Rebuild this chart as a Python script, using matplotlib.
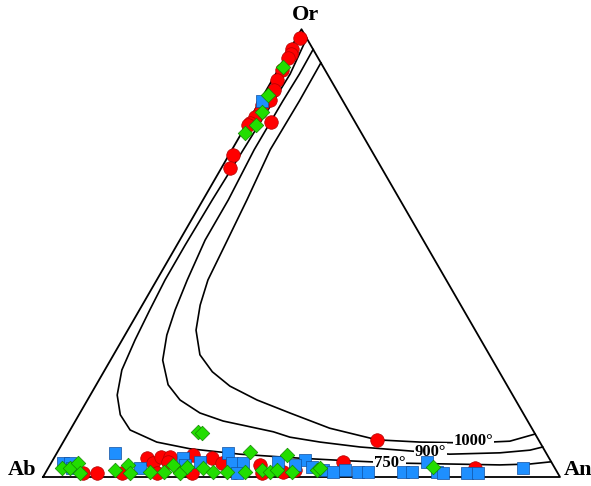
import numpy as np
import matplotlib
matplotlib.use("Agg")
import matplotlib.pyplot as plt

# feldspar compositions, mol% (An, Or); Ab = 100 - An - Or
red_an = [0.7, 0.4, 0.7, 0.6, 0.8, 0.9, 1.5, 1.8, 0.8, 1.2, 0.8, 0.5, 0.3, 4.4, 0.8, 1.7,
          7.3, 10.0, 14.8, 18.0, 19.7, 21.6, 20.6, 22.3, 22.5, 26.6, 30.6, 33.1, 28.4, 25.7,
          36.6, 37.3, 40.6, 41.9, 45.9, 48.0, 56.3, 60.5, 82.5]
red_or = [98.1, 95.6, 94.5, 93.6, 90.9, 88.7, 86.5, 84.2, 83.1, 81.5, 80.4, 79.1, 78.6, 79.3, 71.9, 69.0,
          0.9, 0.9, 0.9, 4.2, 3.1, 0.9, 4.5, 4.5, 3.4, 4.9, 4.2, 3.1, 0.9, 2.7,
          1.1, 1.6, 2.7, 0.9, 1.1, 1.6, 3.4, 8.3, 2.0]

blue_an = [0.3, 2.3, 3.7, 4.6, 11.2, 17.8, 24.9, 33.1, 35.0, 37.1, 37.1, 43.8, 48.8, 50.9,
           53.4, 55.5, 57.6, 60.4, 62.3, 69.1, 70.8, 72.6, 75.6, 76.9, 81.6, 83.7, 91.8,
           26.1, 28.7, 47.4]
blue_or = [84.0, 3.1, 3.1, 2.0, 5.4, 2.0, 4.2, 5.4, 3.1, 3.1, 0.9, 3.4, 3.8, 2.2,
           1.6, 1.1, 1.6, 1.1, 1.1, 1.1, 1.1, 3.4, 1.1, 0.9, 0.9, 0.9, 2.0,
           2.7, 3.4, 2.7]

green_an = [0.6, 0.9, 1.6, 1.9, 0.7,
            2.7, 4.2, 5.2, 6.7, 13.2, 15.1, 16.4, 20.1, 22.8, 23.8, 26.1, 26.7, 29.9,
            32.3, 35.0, 38.5, 37.2, 41.6, 43.3, 44.5, 44.7, 47.6, 52.2, 52.6, 74.3,
            24.9, 25.8]
green_or = [91.6, 85.3, 81.5, 78.6, 76.9,
            2.0, 2.0, 3.1, 0.9, 1.6, 2.7, 0.9, 1.1, 1.1, 2.7, 0.9, 2.2, 2.0,
            1.1, 1.1, 1.1, 5.6, 1.6, 1.1, 1.6, 4.9, 1.1, 1.6, 2.0, 2.2,
            10.1, 9.8]

# isotherms (An, Or)
t750_an = [2.0, 2.8, 2.6, 2.2, 1.8, 1.6, 1.6, 2.0, 2.5, 3.3, 5.2, 8.0, 11.6, 18.1, 25.3,
           35.5, 47.6, 57.6, 67.5, 77.3, 87.0, 92.7, 96.6]
t750_or = [98.0, 90.0, 84.0, 73.1, 61.9, 51.8, 44.0, 37.3, 30.6, 23.9, 18.3, 13.9, 10.5, 7.8, 6.3,
           5.1, 4.2, 3.6, 3.1, 2.9, 2.7, 2.9, 3.4]
t900_an = [4.5, 4.6, 4.4, 4.3, 4.9, 4.9, 5.9, 6.9, 8.1, 10.1, 13.9, 17.9, 23.2, 28.6, 39.5,
           43.3, 49.7, 58.0, 66.0, 76.1, 85.7, 91.2, 93.3]
t900_or = [95.5, 90.0, 84.0, 73.1, 61.9, 52.9, 44.0, 37.3, 31.7, 26.1, 20.6, 17.2, 14.3, 12.5, 10.1,
           8.9, 7.8, 6.7, 6.0, 5.1, 5.4, 6.0, 6.7]
t1000_an = [7.5, 7.6, 7.4, 8.5, 9.3, 9.9, 11.2, 13.2, 16.7, 21.0, 26.0, 32.8, 40.6, 50.0,
            60.5, 69.0, 78.8, 86.3, 90.4]
t1000_or = [92.5, 84.0, 73.1, 61.9, 51.8, 44.0, 38.4, 32.8, 27.3, 23.5, 20.3, 17.2, 14.3, 10.9,
            8.3, 7.8, 7.6, 8.0, 9.6]


def tern(an, orr):
    an = np.asarray(an) / 100.0
    orr = np.asarray(orr) / 100.0
    return an + orr / 2.0, orr * np.sqrt(3) / 2.0


fig = plt.figure(figsize=(5.91, 4.86), dpi=100)
ax = fig.add_axes([0, 0, 1, 1])
ax.set_xlim(-0.0832, 1.0600)
ax.set_ylim(-0.0174, 0.9226)
ax.axis("off")

# triangle
tx, ty = tern([0, 100, 0, 0], [0, 0, 100, 0])
ax.plot(tx, ty, color="black", lw=1.3, zorder=2)

for an, orr in [(t750_an, t750_or), (t900_an, t900_or), (t1000_an, t1000_or)]:
    x, y = tern(an, orr)
    ax.plot(x, y, color="black", lw=1.2, zorder=1)

serif = "Liberation Serif"
lab = dict(fontfamily=serif, fontweight="bold", fontsize=12, ha="center", va="center",
           bbox=dict(facecolor="white", edgecolor="none", pad=0.5), zorder=3)
ax.text(0.832, 0.0696, "1000°", **lab)
ax.text(0.749, 0.0484, "900°", **lab)
ax.text(0.671, 0.0271, "750°", **lab)

x, y = tern(red_an, red_or)
ax.scatter(x, y, s=95, marker="o", color="#ff0000", edgecolors="#b00000", linewidths=0.5, zorder=4)
x, y = tern(blue_an, blue_or)
ax.scatter(x, y, s=78, marker="s", color="#1e8fff", edgecolors="#1050a0", linewidths=0.5, zorder=5)
x, y = tern(green_an, green_or)
ax.scatter(x, y, s=55, marker="D", color="#22dd00", edgecolors="#128800", linewidths=0.5, zorder=6)

vl = dict(fontfamily=serif, fontweight="bold", fontsize=16, ha="center", va="center")
ax.text(0.507, 0.894, "Or", **vl)
ax.text(-0.041, 0.0135, "Ab", **vl)
ax.text(1.035, 0.0135, "An", **vl)

plt.savefig("out.png", dpi=100)
